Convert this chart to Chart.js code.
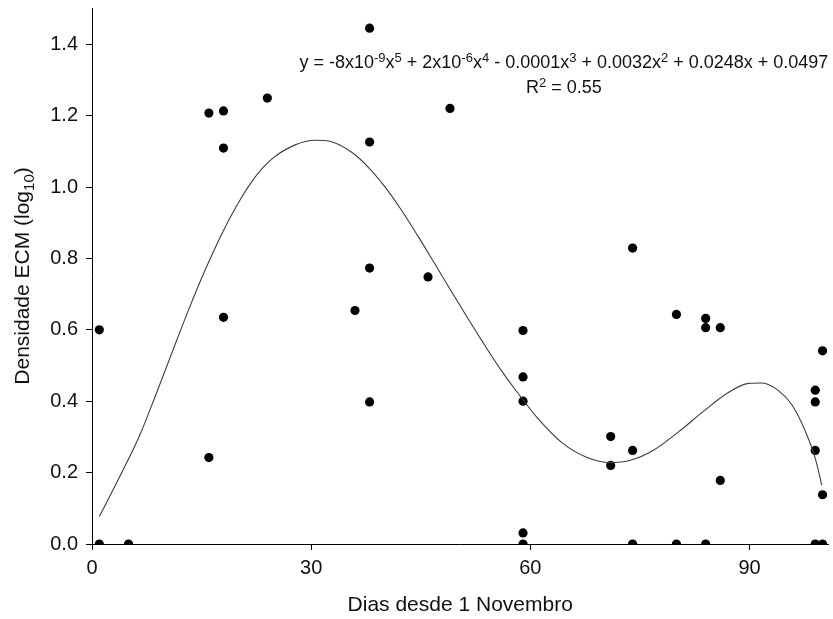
<!DOCTYPE html>
<html>
<head>
<meta charset="utf-8">
<script src="https://cdn.jsdelivr.net/npm/chart.js@4/dist/chart.umd.min.js"></script>
<style>
  html, body { margin: 0; padding: 0; background: #fff; }
  #wrap { width: 833px; height: 619px; }
</style>
</head>
<body>
<div id="wrap"><canvas id="c" width="833" height="619"></canvas></div>
<script>
// Observed ECM density (log10) by day since 1 November
const dias = [1, 1, 5, 16, 16, 18, 18, 18, 24, 36, 38, 38, 38, 38, 46, 49,
  59, 59, 59, 59, 59, 71, 71, 74, 74, 74, 80, 80, 84, 84, 84, 86, 86,
  99, 99, 99, 99, 100, 100, 100];
const densidade = [0.6, 0, 0, 1.207, 0.242, 1.213, 1.109, 0.635, 1.249, 0.654,
  1.445, 1.126, 0.773, 0.398, 0.748, 1.22,
  0.598, 0.468, 0.4, 0.031, 0, 0.301, 0.22, 0.829, 0.262, 0,
  0.643, 0, 0.632, 0.606, 0, 0.606, 0.178,
  0.431, 0.398, 0.262, 0, 0.541, 0.138, 0];

// Fitted polynomial trend, sampled along the day axis
const curvaX = [1, 4.2, 6.5, 8.7, 11, 13.3, 15.5, 17.8, 20.1, 22.3, 24.6, 27.8,
  30.5, 32.8, 35.5, 37.8, 40, 42.3, 44.6, 46.8, 49.1, 51.4, 53.6, 55.9, 58.2,
  60.9, 64.5, 67.7, 70.9, 73.6, 76.8, 80.4, 83.6, 86.7, 89.9, 91.7, 94,
  95.8, 97.6, 99, 99.9];
const curvaY = [0.077, 0.205, 0.303, 0.416, 0.539, 0.66, 0.768, 0.87, 0.958,
  1.027, 1.078, 1.118, 1.131, 1.127, 1.098, 1.056, 1.003, 0.937, 0.863, 0.789,
  0.711, 0.634, 0.562, 0.49, 0.425, 0.355, 0.281, 0.243, 0.228, 0.234,
  0.262, 0.316, 0.37, 0.419, 0.45, 0.451, 0.429, 0.39, 0.318, 0.24, 0.165];

// Axis ticks
const xTicks = [0, 30, 60, 90];
const yTicks = [0, 0.2, 0.4, 0.6, 0.8, 1.0, 1.2, 1.4];

// Equation text: [text, isSuperscript]
const equacao = [
  ['y = -8x10', 0], ['-9', 1], ['x', 0], ['5', 1],
  [' + 2x10', 0], ['-6', 1], ['x', 0], ['4', 1],
  [' - 0.0001x', 0], ['3', 1], [' + 0.0032x', 0], ['2', 1],
  [' + 0.0248x + 0.0497', 0]
];
const r2 = [['R', 0], ['2', 1], [' = 0.55', 0]];
const tituloX = 'Dias desde 1 Novembro';
const tituloY = [['Densidade ECM (log', 0], ['10', -1], [')', 0]];

const FONT = '"Liberation Sans", Arial, sans-serif';
const INK = '#111';

function drawRich(ctx, parts, cx, baseY, size) {
  const supSize = Math.round(size * 0.7);
  let total = 0;
  const widths = parts.map(([t, s]) => {
    ctx.font = (s ? supSize : size) + 'px ' + FONT;
    const w = ctx.measureText(t).width;
    total += w;
    return w;
  });
  let x = cx - total / 2;
  parts.forEach(([t, s], i) => {
    ctx.font = (s ? supSize : size) + 'px ' + FONT;
    const dy = s === 1 ? -size * 0.36 : (s === -1 ? size * 0.25 : 0);
    ctx.fillText(t, x, baseY + dy);
    x += widths[i];
  });
}

const anotacoes = {
  id: 'anotacoes',
  afterDraw(chart) {
    const ctx = chart.ctx;
    const xs = chart.scales.x, ys = chart.scales.y, a = chart.chartArea;
    ctx.save();
    ctx.fillStyle = INK;
    ctx.textAlign = 'left';
    ctx.textBaseline = 'alphabetic';
    // regression equation and R²
    const ex = xs.getPixelForValue(64.6);
    drawRich(ctx, equacao, ex, ys.getPixelForValue(1.333), 18);
    drawRich(ctx, r2, ex, ys.getPixelForValue(1.333) + 25, 18);
    // x axis title
    drawRich(ctx, [[tituloX, 0]], (a.left + a.right) / 2, 611, 21);
    // y axis title (rotated)
    ctx.translate(28.5, 276);
    ctx.rotate(-Math.PI / 2);
    drawRich(ctx, tituloY, 0, 0, 21);
    ctx.restore();
  }
};

const tickFont = { family: FONT, size: 20 };

new Chart(document.getElementById('c'), {
  type: 'scatter',
  data: {
    datasets: [
      {
        type: 'line',
        data: curvaX.map((x, i) => ({ x, y: curvaY[i] })),
        borderColor: '#3c3c3c',
        borderWidth: 1.1,
        pointRadius: 0,
        fill: false,
        cubicInterpolationMode: 'monotone'
      },
      {
        data: dias.map((x, i) => ({ x, y: densidade[i] })),
        backgroundColor: '#000',
        borderColor: '#000',
        borderWidth: 0,
        pointRadius: 4.6,
        clip: { left: 10, top: 10, right: 10, bottom: 0 }
      }
    ]
  },
  options: {
    responsive: false,
    animation: false,
    devicePixelRatio: 1,
    layout: { padding: { top: 8.5, right: 0, left: 0, bottom: 0 } },
    plugins: { legend: { display: false }, tooltip: { enabled: false } },
    scales: {
      x: {
        type: 'linear',
        min: 0,
        max: 100.8,
        afterBuildTicks: s => { s.ticks = xTicks.map(v => ({ value: v })); },
        ticks: { font: tickFont, color: INK, padding: 6, callback: v => String(v) },
        grid: { drawOnChartArea: false, tickLength: 6, color: '#000', lineWidth: 1 },
        border: { display: true, color: '#000', width: 1 },
        afterFit: s => { s.height = 75; s.paddingLeft = 0; s.paddingRight = 0; }
      },
      y: {
        type: 'linear',
        min: 0,
        max: 1.5,
        afterBuildTicks: s => { s.ticks = yTicks.map(v => ({ value: v })); },
        ticks: { font: tickFont, color: INK, padding: 8, callback: v => v.toFixed(1) },
        grid: { drawOnChartArea: false, tickLength: 6, color: '#000', lineWidth: 1 },
        border: { display: true, color: '#000', width: 1 },
        afterFit: s => { s.width = 92; s.paddingTop = 0; s.paddingBottom = 0; }
      }
    }
  },
  plugins: [anotacoes]
});
</script>
</body>
</html>
